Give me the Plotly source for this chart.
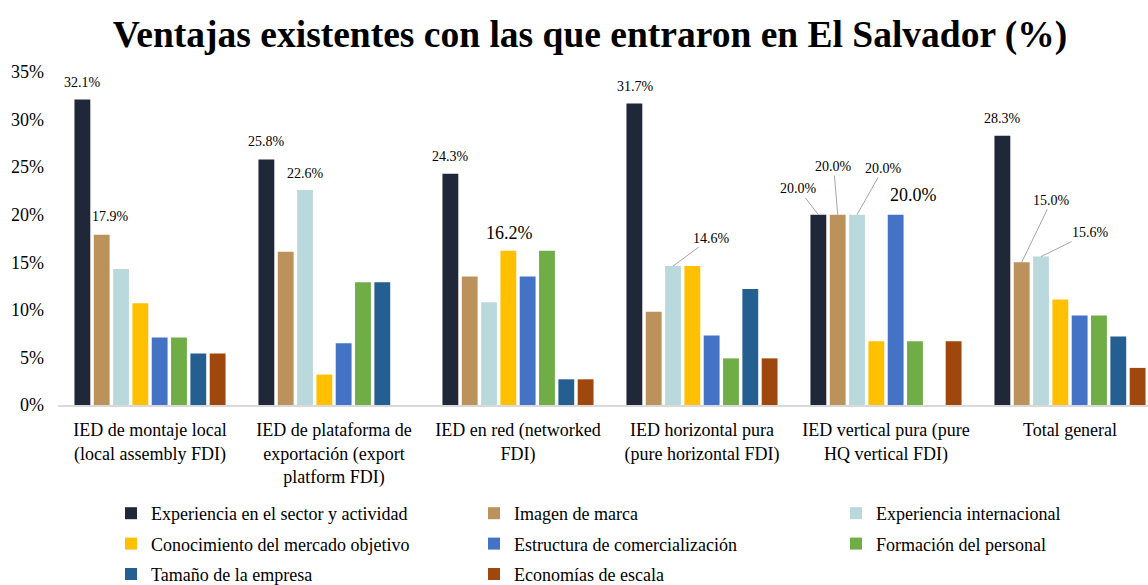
import plotly.graph_objects as go

# Categories (FDI types) and the share of firms citing each existing advantage (%)
categories = [
    "IED de montaje local<br>(local assembly FDI)",
    "IED de plataforma de<br>exportación (export<br>platform FDI)",
    "IED en red (networked<br>FDI)",
    "IED horizontal pura<br>(pure horizontal FDI)",
    "IED vertical pura (pure<br>HQ vertical FDI)",
    "Total general",
]

series_names = [
    "Experiencia en el sector y actividad",
    "Imagen de marca",
    "Experiencia internacional",
    "Conocimiento del mercado objetivo",
    "Estructura de comercialización",
    "Formación del personal",
    "Tamaño de la empresa",
    "Economías de escala",
]

experiencia_sector = [32.1, 25.8, 24.3, 31.7, 20.0, 28.3]
imagen_marca = [17.9, 16.1, 13.5, 9.8, 20.0, 15.0]
experiencia_internacional = [14.3, 22.6, 10.8, 14.6, 20.0, 15.6]
conocimiento_mercado = [10.7, 3.2, 16.2, 14.6, 6.7, 11.1]
estructura_comercial = [7.1, 6.5, 13.5, 7.3, 20.0, 9.4]
formacion_personal = [7.1, 12.9, 16.2, 4.9, 6.7, 9.4]
tamano_empresa = [5.4, 12.9, 2.7, 12.2, 0.0, 7.2]
economias_escala = [5.4, 0.0, 2.7, 4.9, 6.7, 3.9]

series_values = [
    experiencia_sector,
    imagen_marca,
    experiencia_internacional,
    conocimiento_mercado,
    estructura_comercial,
    formacion_personal,
    tamano_empresa,
    economias_escala,
]

colors = ["#1F2739", "#BB925C", "#BAD9DC", "#FFC000",
          "#4472C4", "#70AD47", "#255E91", "#9E480E"]

y_ticks = [0, 5, 10, 15, 20, 25, 30, 35]

FONT = "Liberation Serif, Times New Roman, serif"
BARGAP = 0.16
N = len(series_names)
W, H = 1148, 585

# Legend laid out in three columns, one vertical legend per column
legend_ids = ["legend", "legend2", "legend3"]

fig = go.Figure()
for i, (name, vals, col) in enumerate(zip(series_names, series_values, colors)):
    fig.add_trace(go.Bar(
        name=name, x=categories, y=vals,
        marker=dict(color=col, line=dict(width=0)),
        legend=legend_ids[i % 3], legendgroup=f"g{i}",
        hoverinfo="name+y",
    ))


def bar_x(cat_idx, series_idx):
    """Centre of a bar in category-index units for grouped bars."""
    slot = (1 - BARGAP) / N
    return cat_idx - (1 - BARGAP) / 2 + slot * (series_idx + 0.5)


# Data labels: (category, series, font size, xshift, yshift, arrow ax, arrow ay)
labels = [
    (0, 0, 14, 0, 17, None, None),
    (0, 1, 14, 9, 18, None, None),
    (1, 0, 14, 0, 18, None, None),
    (1, 2, 14, 0, 16, None, None),
    (2, 0, 14, 0, 17, None, None),
    (2, 3, 18, 1, 18, None, None),
    (3, 0, 14, 1, 17, None, None),
    (3, 2, 14, 0, 0, 38, -28),
    (4, 0, 14, 0, 0, -20, -26),
    (4, 1, 14, 0, 0, -4, -48),
    (4, 2, 14, 0, 0, 26, -46),
    (4, 4, 18, 18, 20, None, None),
    (5, 0, 14, 0, 17, None, None),
    (5, 1, 14, 0, 0, 30, -62),
    (5, 2, 14, 0, 0, 49, -24),
]

for ci, si, fs, xs, ys, ax, ay in labels:
    v = series_values[si][ci]
    ann = dict(
        x=bar_x(ci, si), y=v, xref="x", yref="y",
        text=f"{v:.1f}%",
        font=dict(family=FONT, size=fs, color="#000000"),
    )
    if ax is None:
        ann.update(showarrow=False, xshift=xs, yshift=ys, yanchor="middle")
    else:
        ann.update(showarrow=True, ax=ax, ay=ay, arrowhead=0, arrowwidth=1,
                   arrowcolor="#A6A6A6", standoff=0)
    fig.add_annotation(**ann)

legend_style = dict(
    orientation="v", xref="container", yref="container",
    xanchor="left", y=1 - 495 / H, yanchor="top",
    tracegroupgap=4,
    font=dict(family=FONT, size=18, color="#000000"),
    itemclick=False, itemdoubleclick=False, traceorder="grouped",
    bgcolor="rgba(0,0,0,0)",
)

fig.update_layout(
    width=W, height=H,
    margin=dict(l=58, r=0, t=72, b=180, autoexpand=False),
    paper_bgcolor="white", plot_bgcolor="white",
    font=dict(family=FONT, size=17, color="#000000"),
    title=dict(
        text="<b>Ventajas existentes con las que entraron en El Salvador (%)</b>",
        x=(590 - 58) / (W - 58), xref="paper", xanchor="center",
        y=1 - 34 / H, yanchor="middle",
        font=dict(family=FONT, size=37.5, color="#000000"),
    ),
    barmode="group", bargap=BARGAP, bargroupgap=0.18,
    showlegend=True,
    legend=dict(x=111 / W, **legend_style),
    legend2=dict(x=474 / W, **legend_style),
    legend3=dict(x=836 / W, **legend_style),
)

fig.update_xaxes(
    range=[-0.5, 5.424], showline=True, linecolor="#D9D9D9", linewidth=1.5,
    showgrid=False, ticks="", tickfont=dict(family=FONT, size=18),
    ticklabelstandoff=8, fixedrange=True, automargin=False,
)
fig.update_yaxes(
    range=[0, 35], tickvals=y_ticks, ticktext=[f"{t}%" for t in y_ticks],
    showgrid=False, zeroline=False, showline=False, ticks="",
    tickfont=dict(family=FONT, size=18), ticklabelstandoff=13,
    fixedrange=True, automargin=False,
)

fig.write_html("out.html")
